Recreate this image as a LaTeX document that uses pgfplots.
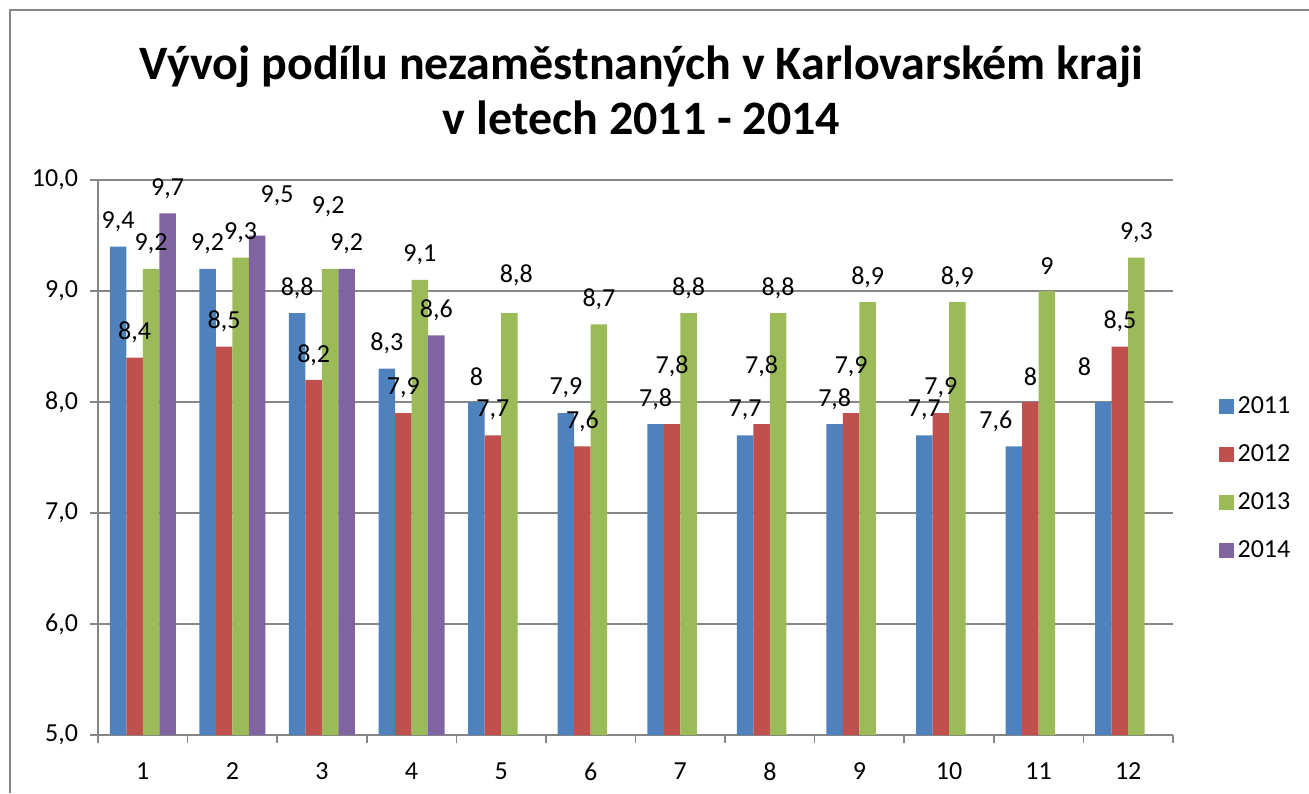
\documentclass[border=0pt]{standalone}
\usepackage{pgfplots}
\usepackage{pgfplotstable}
\pgfplotsset{compat=1.18}
\usepackage{fontspec}
\setmainfont{Carlito}
\definecolor{c1}{HTML}{4F81BD}
\definecolor{c2}{HTML}{C0504D}
\definecolor{c3}{HTML}{9BBB59}
\definecolor{c4}{HTML}{8064A2}
\definecolor{ax}{HTML}{868686}
\pgfplotstableread{
x y dx dy
1 9.4 0 0
2 9.2 0 0
3 8.8 0 0
4 8.3 0 0
5 8 0 0
6 7.9 0 0
7 7.8 0 0
8 7.7 0 0
9 7.8 0 0
10 7.7 0 0
11 7.6 -9 0
12 8 -9.5 5
}\tA
\pgfplotstableread{
x y dx dy
1 8.4 0 0
2 8.5 0 0
3 8.2 0 0
4 7.9 0 0
5 7.7 0 0
6 7.6 0 0
7 7.8 0 16.5
8 7.8 0 16.5
9 7.9 0 10.5
10 7.9 0 0
11 8 0 0
12 8.5 0 0
}\tB
\pgfplotstableread{
x y dx dy
1 9.2 0 0
2 9.3 0 0
3 9.2 -1 18.5
4 9.1 0 0
5 8.8 3.5 6.5
6 8.7 0 0
7 8.8 0 0
8 8.8 0 0
9 8.9 0 0
10 8.9 0 0
11 9 0 0
12 9.3 0 0
}\tC
\pgfplotstableread{
x y dx dy
1 9.7 0 0
2 9.5 10 7.5
3 9.2 0 0
4 8.6 0 0
}\tD
\begin{document}
\begin{tikzpicture}
\path[use as bounding box] (0pt,0pt) rectangle (654.5pt,396.5pt);
\draw[ax, line width=1pt] (5pt,0pt) -- (5pt,391.5pt) -- (654.5pt,391.5pt);
\node[font=\fontsize{24}{28}\selectfont\bfseries, anchor=base] at (320.75pt,356.5pt) {Vývoj podílu nezaměstnaných v Karlovarském kraji};
\node[font=\fontsize{24}{28}\selectfont\bfseries, anchor=base] at (320.75pt,329pt) {v letech 2011 - 2014};
\begin{axis}[
  at={(49pt,29pt)}, anchor=south west, scale only axis,
  width=537.5pt, height=277.5pt,
  ybar=0pt, bar width=8.25pt,
  ymin=5, ymax=10, xmin=0.5, xmax=12.5,
  xtick={1,...,12}, minor xtick={0.5,1.5,...,12.5},
  ytick={5,...,10},
  axis x line*=bottom, axis y line*=left,
  axis line style={ax, line width=0.8pt},
  tick style={ax, line width=0.8pt},
  major x tick style={draw=none},
  tick align=outside, major tick length=4pt, minor tick length=4pt,
  ymajorgrids, grid style={ax, line width=0.8pt},
  /pgf/number format/assume math mode=true,
  /pgf/number format/use comma,
  ticklabel style={font=\fontsize{13}{15}\selectfont},
  xticklabel style={yshift=-6.5pt},
  yticklabel style={xshift=-2.5pt, /pgf/number format/.cd, fixed, fixed zerofill, precision=1, use comma, assume math mode=true},
  visualization depends on={\thisrow{dx} \as \dx},
  visualization depends on={\thisrow{dy} \as \dy},
  nodes near coords,
  nodes near coords style={font=\fontsize{13}{15}\selectfont, black, anchor=center,
    xshift={\dx*1pt}, yshift={(12.5+\dy)*1pt}},
  legend style={at={(1.042,0.617)}, anchor=north west, draw=none, fill=none,
    font=\fontsize{13}{15}\selectfont, row sep=10pt, legend cell align=left,
    inner sep=0pt},
  legend image code/.code={\fill[#1] (-1pt,-3.75pt) rectangle (6.5pt,3.75pt);},
]
\addplot[fill=c1, draw=none] table[x=x,y=y] {\tA};
\addplot[fill=c2, draw=none] table[x=x,y=y] {\tB};
\addplot[fill=c3, draw=none] table[x=x,y=y] {\tC};
\addplot[fill=c4, draw=none] table[x=x,y=y] {\tD};
\legend{2011,2012,2013,2014}
\end{axis}
\end{tikzpicture}
\end{document}
